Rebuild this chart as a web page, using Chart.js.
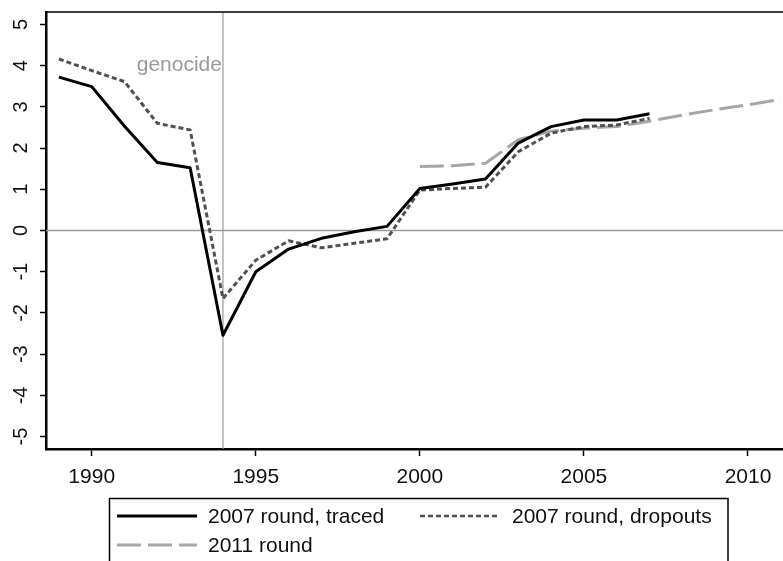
<!DOCTYPE html>
<html><head><meta charset="utf-8">
<script src="https://cdn.jsdelivr.net/npm/chart.js@4/dist/chart.umd.min.js"></script>
<style>html,body{margin:0;padding:0;background:#fff;overflow:hidden}canvas{display:block}</style>
</head><body>
<canvas id="c" width="783" height="561"></canvas>
<script>
// ---- data ----
const years2007 = [1989,1990,1991,1992,1993,1994,1995,1996,1997,1998,1999,2000,2001,2002,2003,2004,2005,2006,2007];
const traced    = [3.72,3.49,2.53,1.65,1.52,-2.54,-1.00,-0.45,-0.19,-0.03,0.10,1.02,1.13,1.25,2.12,2.52,2.68,2.68,2.83];
const dropouts  = [4.16,3.88,3.61,2.60,2.44,-1.65,-0.72,-0.25,-0.42,-0.31,-0.20,0.98,1.02,1.05,1.91,2.36,2.52,2.56,2.72];
const years2011 = [2000,2001,2002,2003,2004,2005,2006,2007,2008,2009,2010,2011];
const round2011 = [1.55,1.57,1.63,2.20,2.41,2.48,2.52,2.65,2.80,2.93,3.05,3.18];
const xTicks = [1990,1995,2000,2005,2010];
const yTicks = [-5,-4,-3,-2,-1,0,1,2,3,4,5];
const seriesLabels = ['2007 round, traced','2007 round, dropouts','2011 round'];
const eventYear = 1994;
const eventLabel = 'genocide';
const eventLabelY = 4;

const FONT = '"Liberation Sans", Arial, sans-serif';
const pts = (xs, ys) => xs.map((x, i) => ({x: x, y: ys[i]}));

const decor = {
  id: 'decor',
  beforeDatasetsDraw(chart) {
    const {ctx, chartArea: a, scales: {x, y}} = chart;
    ctx.save();
    ctx.strokeStyle = '#9a9a9a';
    ctx.lineWidth = 1.5;
    const y0 = y.getPixelForValue(0);
    ctx.beginPath(); ctx.moveTo(a.left, y0); ctx.lineTo(a.right, y0); ctx.stroke();
    ctx.lineWidth = 1.2;
    const xe = x.getPixelForValue(eventYear);
    ctx.beginPath(); ctx.moveTo(xe, a.top); ctx.lineTo(xe, a.bottom); ctx.stroke();
    // top border
    ctx.strokeStyle = '#000';
    ctx.lineWidth = 1.5;
    ctx.beginPath(); ctx.moveTo(a.left, a.top); ctx.lineTo(a.right, a.top); ctx.stroke();
    // annotation
    ctx.fillStyle = '#9a9a9a';
    ctx.font = '21px ' + FONT;
    ctx.textAlign = 'right';
    ctx.textBaseline = 'middle';
    ctx.fillText(eventLabel, xe - 1, y.getPixelForValue(eventLabelY));
    ctx.restore();
  },
  afterDraw(chart) {
    const {ctx} = chart;
    ctx.save();
    // legend box
    ctx.strokeStyle = '#000';
    ctx.lineWidth = 1.5;
    ctx.strokeRect(109.5, 498.5, 618.5, 80);
    const slots = [
      {x0: 117, x1: 197, tx: 208, ty: 516, lw: 3},
      {x0: 420, x1: 499, tx: 512, ty: 516, lw: 2.5},
      {x0: 117, x1: 197, tx: 208, ty: 545, lw: 3}
    ];
    chart.data.datasets.forEach((ds, i) => {
      const s = slots[i];
      ctx.strokeStyle = ds.borderColor;
      ctx.lineWidth = s.lw;
      ctx.setLineDash(ds.borderDash || []);
      ctx.beginPath(); ctx.moveTo(s.x0, s.ty); ctx.lineTo(s.x1, s.ty); ctx.stroke();
      ctx.setLineDash([]);
      ctx.fillStyle = '#111';
      ctx.font = '21px ' + FONT;
      ctx.textAlign = 'left';
      ctx.textBaseline = 'middle';
      ctx.fillText(ds.label, s.tx, s.ty + 1);
    });
    ctx.restore();
  }
};

new Chart(document.getElementById('c'), {
  type: 'line',
  data: {
    datasets: [
      {label: seriesLabels[0], data: pts(years2007, traced), borderColor: '#000', borderWidth: 3, borderDash: []},
      {label: seriesLabels[1], data: pts(years2007, dropouts), borderColor: '#505050', borderWidth: 3, borderDash: [5, 3]},
      {label: seriesLabels[2], data: pts(years2011, round2011), borderColor: '#a6a6a6', borderWidth: 3, borderDash: [24, 7]}
    ]
  },
  options: {
    responsive: false,
    animation: false,
    devicePixelRatio: 1,
    layout: {padding: {top: 12, left: 0, right: 0, bottom: 0}},
    elements: {point: {radius: 0}, line: {tension: 0, borderCapStyle: 'butt', borderJoinStyle: 'round'}},
    plugins: {legend: {display: false}, tooltip: {enabled: false}},
    scales: {
      x: {
        type: 'linear',
        min: 1988.607, max: 2011.067,
        afterBuildTicks(s) { s.ticks = xTicks.map(v => ({value: v})); },
        afterFit(s) { s.height = 112; s.paddingLeft = 0; s.paddingRight = 0; },
        grid: {drawOnChartArea: false, drawTicks: true, tickLength: 7, tickWidth: 1.5, tickColor: '#000'},
        border: {display: true, color: '#000', width: 2.5},
        ticks: {color: '#111', font: {family: FONT, size: 21}, padding: 9, maxRotation: 0, autoSkip: false,
                callback: v => String(v)}
      },
      y: {
        type: 'linear',
        min: -5.3, max: 5.3,
        afterBuildTicks(s) { s.ticks = yTicks.map(v => ({value: v})); },
        afterFit(s) { s.width = 46; s.paddingTop = 0; s.paddingBottom = 0; },
        grid: {drawOnChartArea: false, drawTicks: true, tickLength: 6, tickWidth: 1.5, tickColor: '#000'},
        border: {display: true, color: '#000', width: 2.5},
        ticks: {color: '#111', font: {family: FONT, size: 20}, padding: 10, minRotation: 90, maxRotation: 90, crossAlign: 'center', autoSkip: false,
                callback: v => String(v)}
      }
    }
  },
  plugins: [decor]
});
</script>
</body></html>
